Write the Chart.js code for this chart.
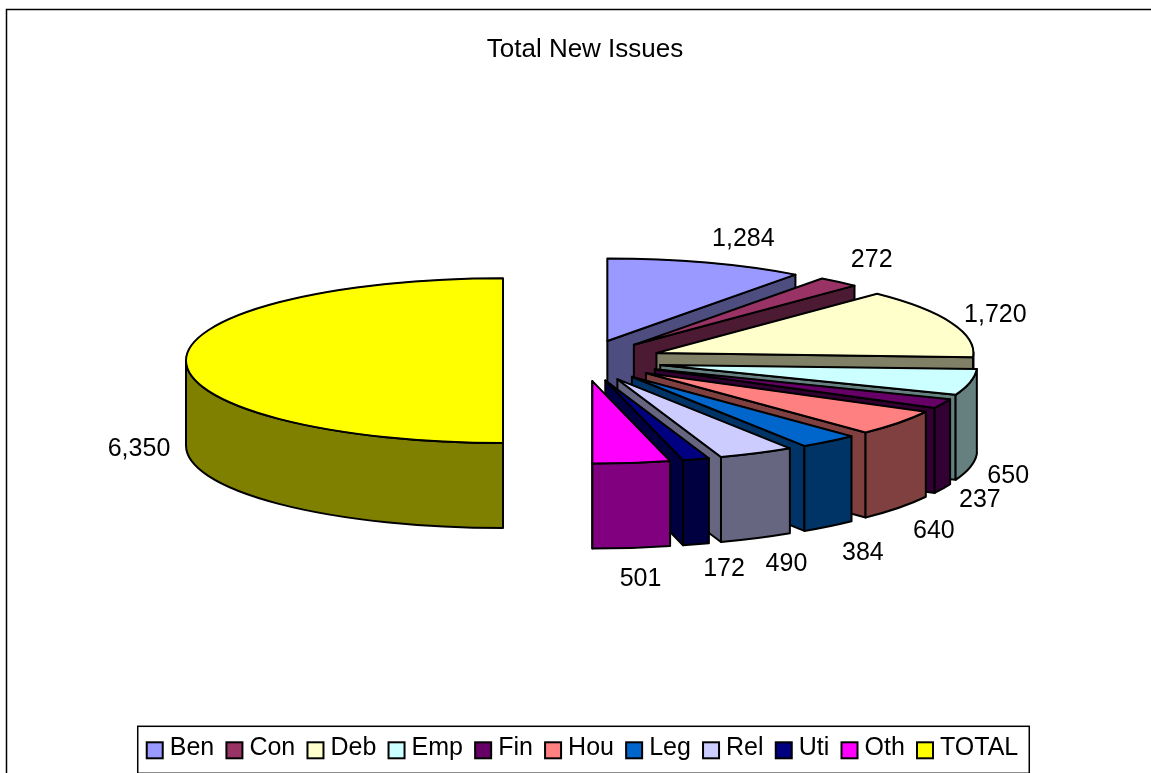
<!DOCTYPE html>
<html>
<head>
<meta charset="utf-8">
<title>Total New Issues</title>
<script src="https://cdn.jsdelivr.net/npm/chart.js@4"></script>
<style>
    body { margin: 0; background: #fff; }
    canvas { display: block; }
</style>
</head>
<body>
<canvas id="grafico" width="1151" height="773"></canvas>
<script>
const categorias = ['Ben','Con','Deb','Emp','Fin','Hou','Leg','Rel','Uti','Oth','TOTAL'];
const valores = [1284,272,1720,650,237,640,384,490,172,501,6350];
const coresTopo = ['#9999FF','#993366','#FFFFCC','#CCFFFF','#660066','#FF8080','#0066CC','#CCCCFF','#000080','#FF00FF','#FFFF00'];
const coresLado = ['#4D4D80','#4D1A33','#808066','#668080','#330033','#804040','#003366','#666680','#000040','#800080','#808000'];

// fake 3d settings
const achatar = 0.26;
const profundidade = 85;
const explosao = 79.5;
const raio = 317;

// label shift from the rim of each slice
const ajusteRotulos = [[37,-24],[33,-22],[44,-8],[38,9],[37,12],[35,23],[34,27],[30,26],[28,25],[9,31],[-47,89]];

Chart.defaults.font.family = '"Liberation Sans", Arial, sans-serif';
Chart.defaults.color = '#000';

function caminho(ctx, pontos) {
    ctx.beginPath();
    pontos.forEach((p, i) => i ? ctx.lineTo(p[0], p[1]) : ctx.moveTo(p[0], p[1]));
    ctx.closePath();
}

function pintar(ctx, cor) {
    ctx.fillStyle = cor;
    ctx.fill();
    ctx.stroke();
}

const pizza3d = {
    id: 'pizza3d',
    afterLayout(chart) {
        chart.titleBlock.left += 5;
    },
    beforeDraw(chart) {
        const ctx = chart.ctx;
        ctx.save();
        ctx.strokeStyle = '#000';
        ctx.lineWidth = 1.5;
        ctx.beginPath();
        ctx.moveTo(6.5, 773);
        ctx.lineTo(6.5, 9.5);
        ctx.lineTo(1151, 9.5);
        ctx.stroke();
        ctx.restore();
    },
    beforeDatasetsDraw(chart) {
        const ctx = chart.ctx;
        const arcos = chart.getDatasetMeta(0).data;
        ctx.save();
        ctx.strokeStyle = '#000';
        ctx.lineWidth = 2;
        ctx.lineJoin = 'round';
        arcos.forEach((arco, i) => {
            const a0 = arco.startAngle, a1 = arco.endAngle;
            const meio = (a0 + a1) / 2;
            const r = arco.outerRadius;
            const x = arco.x + explosao * Math.cos(meio);
            const y = arco.y - profundidade / 2 + achatar * explosao * Math.sin(meio);
            const borda = a => [x + r * Math.cos(a), y + achatar * r * Math.sin(a)];
            const parede = a => {
                const p = borda(a);
                return [[x, y], p, [p[0], p[1] + profundidade], [x, y + profundidade]];
            };

            // cut faces
            if (Math.cos(a0) < 0) {
                caminho(ctx, parede(a0));
                pintar(ctx, coresLado[i]);
            }
            if (Math.cos(a1) > 0) {
                caminho(ctx, parede(a1));
                pintar(ctx, coresLado[i]);
            }

            // outer wall, only the part facing us
            const ini = Math.max(a0, 0), fim = Math.min(a1, Math.PI);
            if (ini < fim) {
                ctx.beginPath();
                ctx.ellipse(x, y, r, achatar * r, 0, ini, fim);
                ctx.ellipse(x, y + profundidade, r, achatar * r, 0, fim, ini, true);
                ctx.closePath();
                pintar(ctx, coresLado[i]);
            }

            // top face is the library's own arc, squashed
            ctx.save();
            ctx.translate(x, y);
            ctx.scale(1, achatar);
            ctx.translate(-arco.x, -arco.y);
            arco.draw(ctx);
            ctx.restore();

            ctx.beginPath();
            ctx.moveTo(x, y);
            ctx.ellipse(x, y, r, achatar * r, 0, a0, a1);
            ctx.closePath();
            ctx.stroke();
        });
        ctx.restore();
        return false;
    },
    afterDraw(chart) {
        const ctx = chart.ctx;
        const arcos = chart.getDatasetMeta(0).data;
        ctx.save();

        // value labels
        ctx.font = '25px "Liberation Sans", Arial, sans-serif';
        ctx.fillStyle = '#000';
        ctx.textAlign = 'center';
        ctx.textBaseline = 'middle';
        arcos.forEach((arco, i) => {
            const meio = (arco.startAngle + arco.endAngle) / 2;
            const alcance = explosao + arco.outerRadius;
            const seno = Math.sin(meio);
            const x = arco.x + alcance * Math.cos(meio);
            const y = arco.y - profundidade / 2 + achatar * alcance * seno + (seno > 0.001 ? profundidade : 0);
            ctx.fillText(valores[i].toLocaleString('en-US'), x + ajusteRotulos[i][0], y + ajusteRotulos[i][1]);
        });

        // legend swatches and frame
        const caixas = chart.legend.legendHitBoxes;
        ctx.strokeStyle = '#000';
        ctx.lineWidth = 2;
        caixas.forEach((c, i) => {
            ctx.fillStyle = coresTopo[i];
            ctx.fillRect(c.left, c.top + 6.5, 16, 16);
            ctx.strokeRect(c.left, c.top + 6.5, 16, 16);
        });
        ctx.lineWidth = 1.5;
        const ultima = caixas[caixas.length - 1];
        const esquerda = caixas[0].left - 9;
        ctx.strokeRect(esquerda, chart.legend.top + 2.7, ultima.left + ultima.width + 11 - esquerda, 47);
        ctx.restore();
    }
};

const grafico = new Chart(document.getElementById('grafico'), {
    type: 'pie',
    data: {
        labels: categorias,
        datasets: [{
            data: valores,
            backgroundColor: coresTopo,
            borderColor: '#000',
            borderWidth: 1,
            radius: raio
        }]
    },
    options: {
        responsive: false,
        animation: false,
        layout: { padding: { left: 14, right: 0, top: 0, bottom: 2.2 } },
        plugins: {
            tooltip: { enabled: false },
            title: {
                display: true,
                text: 'Total New Issues',
                font: { size: 26, weight: 'normal' },
                color: '#000',
                padding: { top: 34.4, bottom: 17 }
            },
            legend: {
                position: 'bottom',
                labels: {
                    font: { size: 25 },
                    boxWidth: 10.5,
                    boxHeight: 6,
                    padding: 12.2,
                    color: '#000'
                }
            }
        }
    },
    plugins: [pizza3d]
});
</script>
</body>
</html>
